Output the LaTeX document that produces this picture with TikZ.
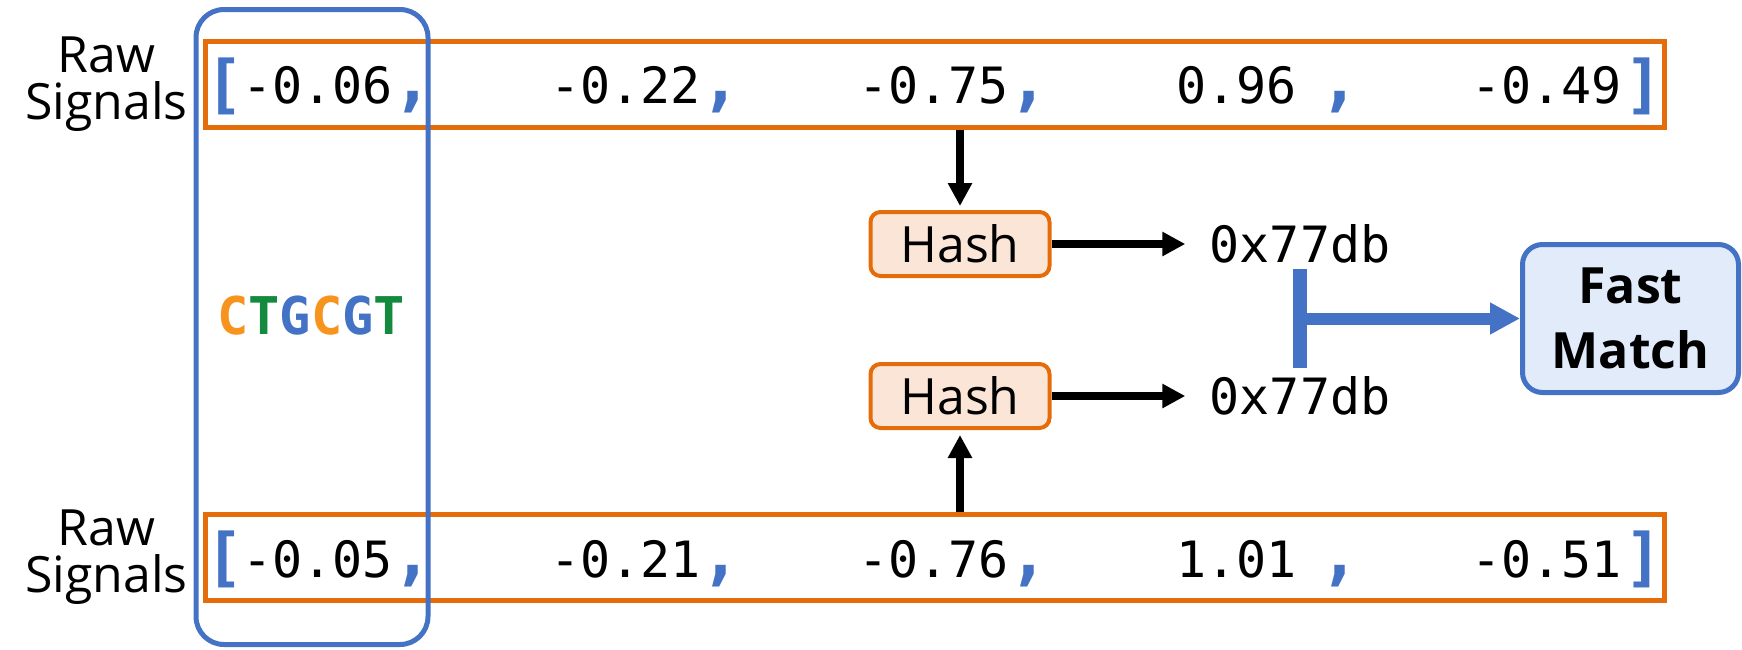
\documentclass[tikz,border=0pt]{standalone}
\usepackage{fontspec}
\setmainfont{Open Sans}
\setmonofont{DejaVu Sans Mono}
\usetikzlibrary{arrows.meta,positioning}

\definecolor{sigorange}{HTML}{E46C0A}
\definecolor{sigblue}{HTML}{4472C4}
\definecolor{hashfill}{HTML}{FBE5D6}
\definecolor{fastfill}{HTML}{E2EBFA}
\definecolor{dnaor}{HTML}{F7941D}
\definecolor{dnagr}{HTML}{138A3E}

\newcommand\sep{{\color{sigblue}\fontsize{34}{34}\selectfont\bfseries,}}

\begin{document}
\begin{tikzpicture}[x=0.5pt,y=-0.5pt]
    \tikzset{sigrow/.style={draw=sigorange, line width=2.5pt, minimum width=729.5pt, minimum height=43pt, inner sep=0pt}}
    \tikzset{readbox/.style={draw=sigblue, line width=2.5pt, rounded corners=14pt, minimum width=116pt, minimum height=317.5pt, inner sep=0pt}}
    \tikzset{rawlbl/.style={align=center, inner sep=0pt, font=\fontsize{25}{23.5}\selectfont}}
    \tikzset{sigval/.style={anchor=base west, inner sep=0pt, font=\ttfamily\fontsize{25}{30}\selectfont}}
    \tikzset{brk/.style={inner sep=0pt, text=sigblue, font=\ttfamily\bfseries\fontsize{32}{32}\selectfont}}
    \tikzset{hashbox/.style={draw=sigorange, fill=hashfill, line width=2pt, rounded corners=5pt, minimum width=89.5pt, minimum height=32pt, inner sep=0pt, font=\fontsize{25}{30}\selectfont}}
    \tikzset{hexval/.style={inner sep=0pt, font=\ttfamily\fontsize{25}{30}\selectfont}}
    \tikzset{fastbox/.style={draw=sigblue, fill=fastfill, line width=2.5pt, rounded corners=10pt, minimum width=108pt, minimum height=74pt, inner sep=0pt, align=center, font=\bfseries\fontsize{25}{32.5}\selectfont}}
    \tikzset{dna/.style={inner sep=0pt, font=\ttfamily\bfseries\fontsize{26}{30}\selectfont}}
    \tikzset{flow/.style={line width=4pt, -{Triangle[length=11.5pt,width=11.5pt]}}}
    \tikzset{matchbar/.style={draw=sigblue, line width=7pt}}
    \tikzset{matcharrow/.style={draw=sigblue, line width=6pt, -{Triangle[length=15pt,width=15pt]}}}

    \useasboundingbox (0,0) rectangle (1742,649);

    % signal rows
    \node[sigrow] (rowA) at (935,84) {};
    \node[sigrow] (rowB) at (935,557) {};
    \node[rawlbl, left=7.5pt of rowA] (lblA) {Raw\\Signals};
    \node[rawlbl, left=7.5pt of rowB] (lblB) {Raw\\Signals};

    \foreach \x/\v/\s [count=\i] in {242/-0.06/\sep, 550/-0.22/\sep, 858/-0.75/\sep, 1176/0.96/\hspace{11.5pt}\sep, 1471/-0.49/{}}
        \node[sigval] (valA\i) at (\x,103) {\v\s};
    \foreach \x/\v/\s [count=\i] in {242/-0.05/\sep, 550/-0.21/\sep, 858/-0.76/\sep, 1176/1.01/\hspace{11.5pt}\sep, 1471/-0.51/{}}
        \node[sigval] (valB\i) at (\x,577) {\v\s};

    \node[brk] (brA1) at (225,86) {[};
    \node[brk] (brA2) at (1644,86) {]};
    \node[brk] (brB1) at (225,559) {[};
    \node[brk] (brB2) at (1644,559) {]};

    % read column
    \node[readbox] (read) at (312,327) {};
    \node[dna] (seq) at (311,316) {\textcolor{dnaor}{C}\textcolor{dnagr}{T}\textcolor{sigblue}{G}\textcolor{dnaor}{C}\textcolor{sigblue}{G}\textcolor{dnagr}{T}};

    % hashing
    \node[hashbox] (hashA) at (960,244) {Hash};
    \node[hashbox] (hashB) at (960,396) {Hash};
    \node[hexval] (hexA) at (1300,244) {0x77db};
    \node[hexval] (hexB) at (1300,396) {0x77db};

    \draw[flow, shorten >=2pt] (rowA.south -| hashA) -- (hashA);
    \draw[flow, shorten >=2.5pt] (rowB.north -| hashB) -- (hashB);
    \draw[flow, shorten >=12pt] (hashA) -- (hexA);
    \draw[flow, shorten >=12pt] (hashB) -- (hexB);

    % match
    \node[fastbox] (fast) at (1630.5,318.5) {Fast\\Match};
    \coordinate (barT) at (1300,269);
    \coordinate (barB) at (1300,368);
    \draw[matchbar] (barT) -- (barB);
    \draw[matcharrow] (barT |- fast.west) -- (fast.west);
\end{tikzpicture}
\end{document}
